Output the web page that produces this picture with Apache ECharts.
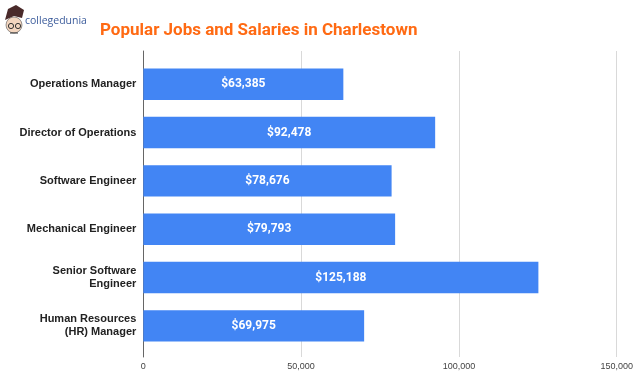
<!DOCTYPE html>
<html><head><meta charset="utf-8">
<script src="https://cdn.jsdelivr.net/npm/echarts@6/dist/echarts.min.js"></script>
<style>html,body{margin:0;padding:0;background:#fff}#c{width:639px;height:376px}</style>
</head><body><div id="c"></div>
<script>
const categories = ["Operations Manager","Director of Operations","Software Engineer","Mechanical Engineer","Senior Software\nEngineer","Human Resources\n(HR) Manager"];
const salaries = [63385, 92478, 78676, 79793, 125188, 69975];
const xTicks = [0, 50000, 100000, 150000];

const chart = echarts.init(document.getElementById('c'), null, {renderer:'canvas'});
const fmt = v => v.toString().replace(/\B(?=(\d{3})+(?!\d))/g, ',');
chart.setOption({
  backgroundColor:'#fff',
  animation:false,
  title:{text:'Popular Jobs and Salaries in Charlestown', left:95, top:17,
    textStyle:{color:'#FF6A13', fontSize:17, fontWeight:'bold', fontFamily:'Roboto'}},
  graphic:[
    {type:'circle', shape:{cx:14, cy:25, r:8}, style:{fill:'#f3d6c0', stroke:'#555', lineWidth:0.6}},
    {type:'polygon', shape:{points:[[5,20],[8,9],[16,5],[24,10],[22,18],[14,16]]}, style:{fill:'#4a2a2a'}},
    {type:'circle', shape:{cx:11, cy:26, r:2.6}, style:{fill:'none', stroke:'#333', lineWidth:1}},
    {type:'circle', shape:{cx:18, cy:26, r:2.6}, style:{fill:'none', stroke:'#333', lineWidth:1}},
    {type:'line', shape:{x1:10, y1:33, x2:18, y2:33}, style:{stroke:'#333', lineWidth:1}},
    {type:'text', left:25, top:16, style:{text:'collegedunia', fill:'#3d5d9c', font:'10.5px "Open Sans", sans-serif'}}
  ],
  grid:[
    {left:143.3, right:22.3, top:60, height:290, containLabel:false},
    {left:143.3, right:22.3, top:51, height:306, containLabel:false}
  ],
  xAxis:[
    {gridIndex:0, type:'value', min:0, max:150000, interval:50000, show:true,
      axisLine:{show:false}, axisTick:{show:false}, axisLabel:{show:false}, splitLine:{show:false}},
    {gridIndex:1, type:'value', min:xTicks[0], max:xTicks[xTicks.length-1], interval:50000,
      axisLine:{show:false}, axisTick:{show:false},
      splitLine:{show:true, lineStyle:{color:'#d9d9d9', width:1}},
      axisLabel:{color:'#444', fontSize:9, fontFamily:'Liberation Sans, Arial', margin:5, formatter:v=>fmt(v)}}
  ],
  yAxis:[
    {gridIndex:0, type:'category', data:categories, inverse:true,
      axisLine:{show:false}, axisTick:{show:false},
      axisLabel:{color:'#222', fontSize:11, fontWeight:'bold', fontFamily:'Liberation Sans, Arial', margin:7, lineHeight:13, align:'right'}},
    {gridIndex:1, type:'value', min:0, max:1, axisLabel:{show:false}, axisTick:{show:false}, splitLine:{show:false},
      axisLine:{show:true, lineStyle:{color:'#666', width:1}}}
  ],
  series:[{
    type:'bar', xAxisIndex:0, yAxisIndex:0, data:salaries, barCategoryGap:'35%',
    itemStyle:{color:'#4285F4'},
    label:{show:true, position:'inside', color:'#fff', fontSize:12, fontWeight:'bold', fontFamily:'Roboto',
      formatter:p=>'$'+fmt(p.value)}
  }]
});
</script></body></html>
